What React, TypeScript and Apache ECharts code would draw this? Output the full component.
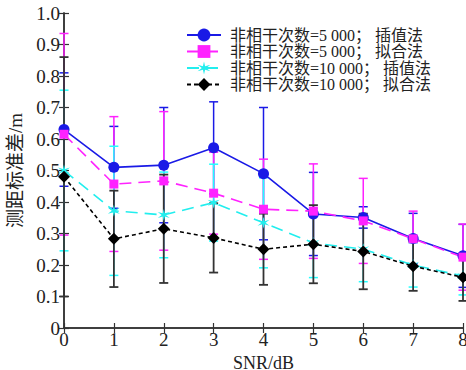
import React, { useEffect, useRef } from "react";
import * as echarts from "echarts";

const snr = [0, 1, 2, 3, 4, 5, 6, 7, 8];
const xTicks = ["0", "1", "2", "3", "4", "5", "6", "7", "8"];

const blueMean = [0.63, 0.51, 0.517, 0.572, 0.49, 0.362, 0.351, 0.284, 0.229];
const blueErr = [0.18, 0.13, 0.183, 0.146, 0.21, 0.132, 0.034, 0.08, 0.1];

const magentaMean = [0.615, 0.457, 0.467, 0.428, 0.377, 0.371, 0.34, 0.283, 0.225];
const magentaErr = [0.32, 0.214, 0.22, 0.13, 0.159, 0.15, 0.135, 0.088, 0.105];

const cyanMean = [0.5, 0.372, 0.359, 0.398, 0.334, 0.27, 0.25, 0.2, 0.165];
const cyanErr = [0.255, 0.205, 0.136, 0.122, 0.143, 0.11, 0.103, 0.07, 0.06];

const blackMean = [0.48, 0.283, 0.315, 0.286, 0.25, 0.266, 0.243, 0.196, 0.161];
const blackErr = [0.38, 0.153, 0.172, 0.11, 0.113, 0.124, 0.12, 0.078, 0.075];

const names = [
  "非相干次数=5 000； 插值法",
  "非相干次数=5 000； 拟合法",
  "非相干次数=10 000； 插值法",
  "非相干次数=10 000； 拟合法",
];

const FONT = "'Liberation Serif', 'Times New Roman', 'Noto Sans CJK SC', serif";
const AXIS = "#333333";
const STAR =
  "path://M0,-10L1.5,-2.6L8.66,-5L3,0L8.66,5L1.5,2.6L0,10L-1.5,2.6L-8.66,5L-3,0L-8.66,-5L-1.5,-2.6Z";

function errSeries(mean: number[], err: number[], color: string, width: number) {
  return {
    type: "custom",
    silent: true,
    clip: false,
    data: snr.map((x, i) => [x, mean[i] - err[i], mean[i] + err[i]]),
    renderItem: (params: any, api: any) => {
      const x = api.value(0);
      const lo = api.coord([x, api.value(1)]);
      const hi = api.coord([x, api.value(2)]);
      const cw = 4.5;
      const style = { stroke: color, lineWidth: width };
      return {
        type: "group",
        children: [
          { type: "line", shape: { x1: lo[0], y1: lo[1], x2: hi[0], y2: hi[1] }, style },
          { type: "line", shape: { x1: lo[0] - cw, y1: lo[1], x2: lo[0] + cw, y2: lo[1] }, style },
          { type: "line", shape: { x1: hi[0] - cw, y1: hi[1], x2: hi[0] + cw, y2: hi[1] }, style },
        ],
      };
    },
  };
}

function lineSeries(
  name: string,
  mean: number[],
  color: string,
  symbol: string,
  size: number,
  dash: any
) {
  return {
    type: "line",
    name,
    data: snr.map((x, i) => [x, mean[i]]),
    symbol,
    symbolSize: size,
    showAllSymbol: true,
    clip: true,
    lineStyle: { color, width: 1.6, type: dash },
    itemStyle: { color },
  };
}

export default function App() {
  const ref = useRef<HTMLDivElement>(null);
  useEffect(() => {
    if (!ref.current) return;
    const chart = echarts.init(ref.current, null, { renderer: "svg" });
    const yLabel = (v: number) => (v === 0 ? "0" : v.toFixed(1));
    chart.setOption({
      animation: false,
      backgroundColor: "#ffffff",
      grid: { left: 64, right: 3, top: 13, bottom: 42, containLabel: false, outerBoundsMode: "none" },
      legend: {
        data: names,
        orient: "vertical",
        left: 181,
        top: 22,
        itemGap: 0.5,
        itemWidth: 34,
        itemHeight: 16,
        textStyle: { fontFamily: FONT, fontSize: 16, color: "#222", padding: [0, 0, 0, 4], lineHeight: 16 },
        backgroundColor: "transparent",
      },
      xAxis: [
        {
          type: "value",
          min: 0,
          max: 8,
          interval: 1,
          name: "SNR/dB",
          nameLocation: "middle",
          nameGap: 16,
          nameTextStyle: { fontFamily: FONT, fontSize: 18, color: "#222", verticalAlign: "top", lineHeight: 18 },
          axisLine: { lineStyle: { color: AXIS, width: 1.5 } },
          axisTick: { inside: true, length: 5, lineStyle: { color: AXIS, width: 1.2 } },
          axisLabel: {
            fontFamily: FONT,
            fontSize: 19,
            color: "#222",
            margin: 2,
            lineHeight: 19,
            formatter: (v: number) => xTicks[v],
          },
          splitLine: { show: false },
        },
        {
          type: "value",
          position: "top",
          min: 0,
          max: 8,
          interval: 1,
          axisLine: { lineStyle: { color: AXIS, width: 1.5 } },
          axisTick: { inside: true, length: 5, lineStyle: { color: AXIS, width: 1.2 } },
          axisLabel: { show: false },
          splitLine: { show: false },
        },
      ],
      yAxis: [
        {
          type: "value",
          min: 0,
          max: 1,
          interval: 0.1,
          name: "测距标准差/m",
          nameLocation: "middle",
          nameGap: 35,
          nameTextStyle: { fontFamily: FONT, fontSize: 19, color: "#222" },
          axisLine: { lineStyle: { color: AXIS, width: 1.5 } },
          axisTick: { inside: true, length: 5, lineStyle: { color: AXIS, width: 1.2 } },
          axisLabel: { fontFamily: FONT, fontSize: 19, color: "#222", margin: 4, formatter: yLabel },
          splitLine: { show: false },
        },
        {
          type: "value",
          position: "right",
          min: 0,
          max: 1,
          interval: 0.1,
          axisLine: { lineStyle: { color: AXIS, width: 1.5 } },
          axisTick: { inside: true, length: 5, lineStyle: { color: AXIS, width: 1.2 } },
          axisLabel: { show: false },
          splitLine: { show: false },
        },
      ],
      series: [
        errSeries(blueMean, blueErr, "#1a1ae6", 1.5),
        lineSeries(names[0], blueMean, "#1a1ae6", "circle", 11, "solid"),
        errSeries(magentaMean, magentaErr, "#ff22ff", 1.5),
        lineSeries(names[1], magentaMean, "#ff22ff", "rect", 9, [12, 7]),
        errSeries(cyanMean, cyanErr, "#22ffff", 1.5),
        lineSeries(names[2], cyanMean, "#22eeee", STAR, 12, [12, 7]),
        errSeries(blackMean, blackErr, "#333333", 1.8),
        lineSeries(names[3], blackMean, "#000000", "diamond", 12, [4, 3]),
      ],
    });
    return () => chart.dispose();
  }, []);
  return <div ref={ref} style={{ width: 466, height: 370, position: "absolute", left: 0, top: 0 }} />;
}
